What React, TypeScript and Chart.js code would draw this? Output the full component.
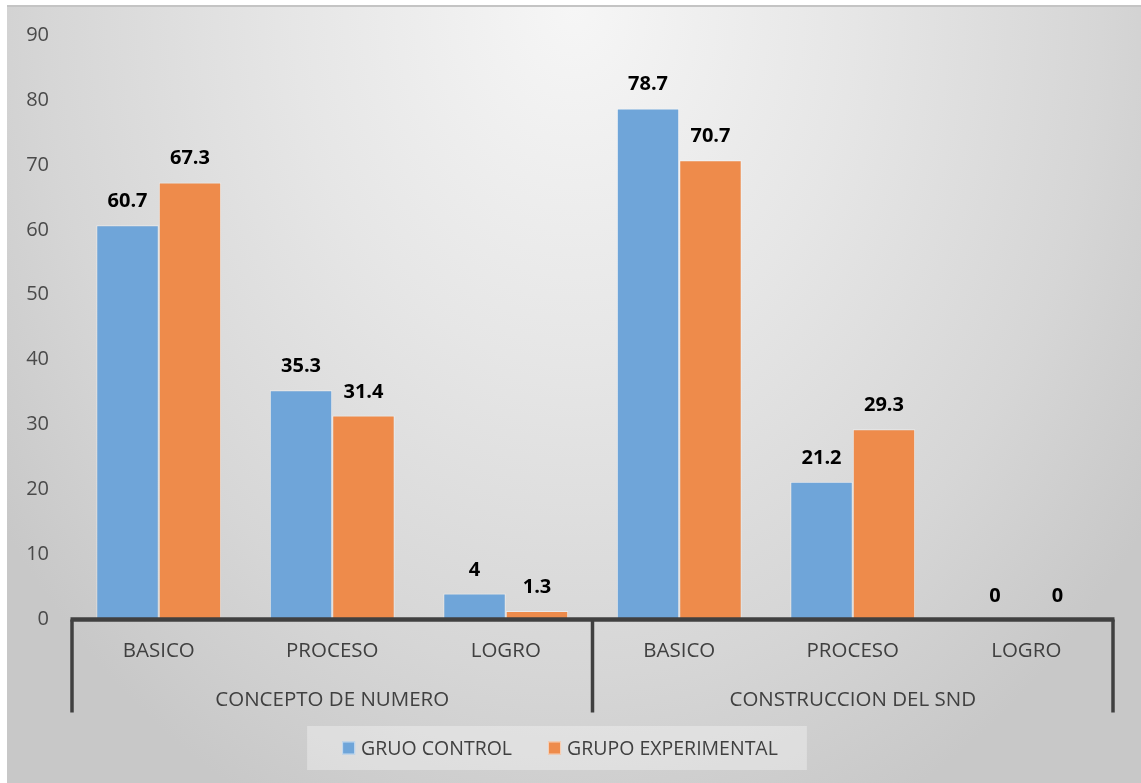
import React, { useEffect, useRef } from "react";
import { Chart, registerables } from "chart.js";

Chart.register(...registerables);

// ---- data ----
const categories = ["BASICO", "PROCESO", "LOGRO", "BASICO", "PROCESO", "LOGRO"];
const groups = ["CONCEPTO DE NUMERO", "CONSTRUCCION DEL SND"];
const seriesNames = ["GRUO CONTROL", "GRUPO EXPERIMENTAL"];
const controlValues = [60.7, 35.3, 4, 78.7, 21.2, 0];
const experimentalValues = [67.3, 31.4, 1.3, 70.7, 29.3, 0];
const yMin = 0;
const yMax = 90;
const yStep = 10;

const FONT = "'Open Sans', sans-serif";
const BLUE = "#6fa5d9";
const ORANGE = "#ee8b4b";
const AXIS_TEXT = "#404040";
const LINE = "#404040";

const decorPlugin = {
  id: "decor",
  afterDatasetsDraw(chart: any) {
    const ctx = chart.ctx;
    ctx.save();
    ctx.font = `bold 20px ${FONT}`;
    ctx.fillStyle = "#000";
    ctx.textAlign = "center";
    ctx.textBaseline = "alphabetic";
    chart.data.datasets.forEach((ds: any, di: number) => {
      const meta = chart.getDatasetMeta(di);
      meta.data.forEach((bar: any, i: number) => {
        ctx.fillText(String(ds.data[i]), bar.x, bar.y - 18);
      });
    });
    ctx.restore();
  },
  afterDraw(chart: any) {
    const ctx = chart.ctx;
    const x = chart.scales.x;
    const x2 = chart.scales.x2;
    const y0 = chart.chartArea.bottom;
    ctx.save();
    // axis line
    ctx.strokeStyle = LINE;
    ctx.lineWidth = 4.5;
    ctx.beginPath();
    ctx.moveTo(x.left - 1.5, y0);
    ctx.lineTo(x.right + 1.5, y0);
    ctx.stroke();
    // group dividers
    const mid = (x.getPixelForValue(2) + x.getPixelForValue(3)) / 2;
    ctx.lineWidth = 3.5;
    [x.left, mid, x.right].forEach((px: number) => {
      ctx.beginPath();
      ctx.moveTo(px, y0);
      ctx.lineTo(px, x2.bottom);
      ctx.stroke();
    });

    // legend
    ctx.font = `19.5px ${FONT}`;
    const box = 13;
    const gapText = 6;
    const gapItem = 36;
    const items = chart.data.datasets.map((ds: any) => ({
      label: ds.label,
      color: ds.backgroundColor,
      w: ctx.measureText(ds.label).width,
    }));
    let total = 0;
    items.forEach((it: any, i: number) => {
      total += box + gapText + it.w + (i < items.length - 1 ? gapItem : 0);
    });
    const cx = 553;
    const cy = 741;
    let sx = cx - total / 2;
    ctx.fillStyle = "rgba(255,255,255,0.32)";
    ctx.fillRect(sx - 35, cy - 22, total + 64, 44);
    ctx.textBaseline = "middle";
    ctx.textAlign = "left";
    items.forEach((it: any) => {
      ctx.fillStyle = it.color;
      ctx.fillRect(sx, cy - box / 2, box, box);
      ctx.strokeStyle = "rgba(255,255,255,0.6)";
      ctx.lineWidth = 1;
      ctx.strokeRect(sx + 0.5, cy - box / 2 + 0.5, box - 1, box - 1);
      ctx.fillStyle = AXIS_TEXT;
      ctx.fillText(it.label, sx + box + gapText, cy + 1);
      sx += box + gapText + it.w + gapItem;
    });
    ctx.restore();
  },
};

export default function App() {
  const ref = useRef<HTMLCanvasElement>(null);

  useEffect(() => {
    let chart: Chart | null = null;
    let cancelled = false;
    const build = () => {
      if (cancelled || !ref.current) return;
      chart = new Chart(ref.current, {
        type: "bar",
        data: {
          labels: categories,
          datasets: [
            {
              label: seriesNames[0],
              data: controlValues,
              backgroundColor: BLUE,
              borderColor: "rgba(255,255,255,0.45)",
              borderWidth: 1,
              categoryPercentage: 0.72,
              barPercentage: 1,
            },
            {
              label: seriesNames[1],
              data: experimentalValues,
              backgroundColor: ORANGE,
              borderColor: "rgba(255,255,255,0.45)",
              borderWidth: 1,
              categoryPercentage: 0.72,
              barPercentage: 1,
            },
          ],
        },
        options: {
          responsive: false,
          animation: false,
          layout: { padding: { top: 28, right: 28, bottom: 70.5, left: 0 } },
          plugins: { legend: { display: false }, tooltip: { enabled: false } },
          scales: {
            x: {
              type: "category",
              position: "bottom",
              weight: 0,
              offset: true,
              grid: { display: false, drawTicks: false },
              border: { display: false },
              ticks: { font: { family: FONT, size: 20.5 }, color: AXIS_TEXT, padding: 19, maxRotation: 0, autoSkip: false },
              afterFit: (s: any) => {
                s.height = 49;
              },
            },
            x2: {
              type: "category",
              labels: groups,
              position: "bottom",
              weight: 1,
              offset: true,
              grid: { display: false, drawTicks: false },
              border: { display: false },
              ticks: { font: { family: FONT, size: 20.5 }, color: AXIS_TEXT, padding: 19, maxRotation: 0, autoSkip: false },
              afterFit: (s: any) => {
                s.height = 44;
              },
            },
            y: {
              min: yMin,
              max: yMax,
              grid: {
                display: false,
                drawOnChartArea: false,
                drawTicks: true,
                tickLength: 18,
                color: "rgba(0,0,0,0)",
              },
              border: { display: false },
              ticks: { stepSize: yStep, font: { family: FONT, size: 20 }, color: "#4a4a4a", padding: 5 },
              afterFit: (s: any) => {
                s.width = 65;
              },
            },
          },
        },
        plugins: [decorPlugin],
      } as any);
    };
    const fontsApi: any = (document as any).fonts;
    if (fontsApi && fontsApi.load) {
      Promise.all([
        fontsApi.load(`20px 'Open Sans'`),
        fontsApi.load(`bold 20px 'Open Sans'`),
      ])
        .catch(() => null)
        .then(build);
    } else {
      build();
    }
    return () => {
      cancelled = true;
      if (chart) chart.destroy();
    };
  }, []);

  return (
    <div
      style={{
        position: "absolute",
        left: 7,
        top: 5,
        width: 1134,
        height: 778,
        boxSizing: "border-box",
        borderTop: "2px solid #c4c4c4",
        background:
          "radial-gradient(ellipse 62% 115% at 50% 0%, #f6f6f6 0%, #e6e6e6 40%, #d6d6d6 75%, #c8c8c8 100%)",
      }}
    >
      <canvas ref={ref} width={1134} height={776} style={{ display: "block" }} />
    </div>
  );
}
